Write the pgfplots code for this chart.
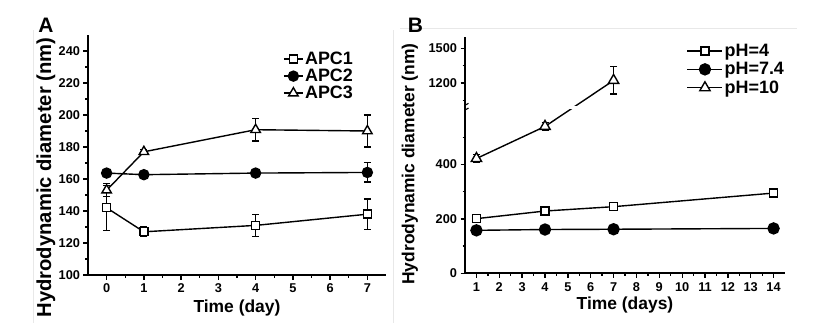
\documentclass[border=0pt]{standalone}
\usepackage{pgfplots}
\pgfplotsset{compat=1.18}
\usepackage{pgfplotstable}
\usepackage{fontspec}
\setmainfont{Liberation Sans}

\pgfplotstableread{
x y e
0 142 14
1 127 3
4 131 7
7 138 9.5
}\apcA
\pgfplotstableread{
x y e
0 163.7 0
1 162.7 0
4 163.7 0
7 164.1 6
}\apcB
\pgfplotstableread{
x y e
0 153 4
1 177 1.5
4 190.8 7
7 190 10
}\apcC
\pgfplotstableread{
x y e
1 201 4
4 229 4
7 245 4
14 295 4
}\phA
\pgfplotstableread{
x y e
1 158 3
4 161 3
7 162 3
14 165 3
}\phB
\pgfplotstableread{
x y e
1 422 15
4 540 15
7 1223 0
}\phC
% error bar of pH=10 at day 7: 1223 +/- 117
\pgfplotstableread{
x y
7 1106
7 1340
}\phCerr

\newcommand\legfont{\bfseries\fontsize{18}{18}\selectfont}
\pgfplotsset{
  panel/.style={
    scale only axis,
    axis x line*=bottom, axis y line*=left,
    axis line style={line width=1.6bp,-},
    tick align=outside,
    major tick length=4.5bp, minor tick length=2.5bp,
    every tick/.style={black, line width=1.3bp},
    minor x tick num=1,
    ticklabel style={font=\bfseries\fontsize{12.8}{12.8}\selectfont},
    /pgf/number format/assume math mode=true,
    /pgf/number format/1000 sep={},
    xticklabel style={yshift=-1bp},
    label style={font=\bfseries\fontsize{17.5}{17.5}\selectfont},
    legend cell align=left,
    error bars/y dir=both, error bars/y explicit,
    error bars/error bar style={line width=1.2bp, black},
    error bars/error mark options={line width=1.2bp, black, mark size=3.5bp, rotate=90},
  },
  ser/.style={black, line width=1.4bp, mark options={solid, line width=1.7bp}},
  % broken y axis of panel B: 0..604 linear, 604..1000 squeezed, 1000..1600 compressed
  brk/.style={y filter/.code={\edef\yv{\pgfmathresult}\pgfmathparse{min(\yv,604)+max(min(\yv,1000)-604,0)*10/396+max(\yv-1000,0)*0.4267}}},
}

\begin{document}
\begin{tikzpicture}
\useasboundingbox (0,0) rectangle (825bp,331bp);
\draw[gray!18, line width=0.8bp] (33bp,8bp) -- (33bp,301bp);
\draw[gray!18, line width=0.8bp] (393bp,8bp) -- (393bp,301bp);
\draw[gray!18, line width=0.8bp] (400bp,303bp) -- (797bp,303bp);
\node[font=\bfseries\fontsize{21}{21}\selectfont] at (46bp,306bp) {A};

% ---------------- Panel A ----------------
\begin{axis}[panel,
  at={(88bp,56bp)}, anchor=south west,
  width=298bp, height=240bp,
  xmin=-0.5, xmax=7.5, ymin=100, ymax=250,
  xtick={0,...,7},
  ytick={100,120,...,240}, minor y tick num=1,
  xlabel={Time (day)}, ylabel={Hydrodynamic diameter (nm)},
  xlabel style={at={(axis description cs:0.5,-0.1375)}, anchor=center},
  ylabel style={at={(axis description cs:-0.141,0.406)}, anchor=center, font=\bfseries\fontsize{20.3}{20.3}\selectfont},
  legend style={draw=none, fill=none, inner sep=0pt, outer sep=0pt, row sep=0bp,
     nodes={inner sep=1.5bp},
     at={(axis description cs:0.655,0.935)}, anchor=north west},
  legend image code/.code={\draw[#1, mark repeat=2, mark phase=2] plot coordinates {(0bp,0bp) (9.5bp,0bp) (19bp,0bp)};},
]
\addplot+[ser, mark=square*, mark size=4bp, mark options={fill=white}] table[x=x,y=y,y error=e] {\apcA};
\addlegendentry{\legfont APC1}
\addplot+[ser, mark=*, mark size=5bp, mark options={fill=black}] table[x=x,y=y,y error=e] {\apcB};
\addlegendentry{\legfont APC2}
\addplot+[ser, mark=triangle*, mark size=5.5bp, mark options={fill=white}] table[x=x,y=y,y error=e] {\apcC};
\addlegendentry{\legfont APC3}
\end{axis}

% ---------------- Panel B ----------------
\begin{axis}[panel,
  at={(465bp,57.7bp)}, anchor=south west,
  width=320bp, height=236.6bp,
  xmin=0.5, xmax=14.5, ymin=0, ymax=870,
  xtick={1,...,14},
  ytick={0,200,400,699.34,827.35}, yticklabels={0,200,400,1200,1500},
  minor ytick={100,300,500,635.3,763.3},
  xlabel={Time (days)}, ylabel={Hydrodynamic diameter (nm)},
  xlabel style={at={(axis description cs:0.5,-0.134)}, anchor=center},
  ylabel style={at={(axis description cs:-0.172,0.462)}, anchor=center},
  legend style={draw=none, fill=none, inner sep=0pt, outer sep=0pt, row sep=1.5bp,
     nodes={inner sep=1.5bp},
     at={(axis description cs:0.693,0.975)}, anchor=north west},
  legend image code/.code={\draw[#1, mark repeat=2, mark phase=2] plot coordinates {(0bp,0bp) (17.5bp,0bp) (35bp,0bp)};},
]
\addplot+[ser, brk, mark=square*, mark size=4bp, mark options={fill=white}] table[x=x,y=y,y error=e] {\phA};
\addlegendentry{\legfont pH=4}
\addplot+[ser, brk, mark=*, mark size=5.5bp, mark options={fill=black}] table[x=x,y=y,y error=e] {\phB};
\addlegendentry{\legfont pH=7.4}
\addplot[black, line width=1.2bp, brk, mark=-, mark size=3.5bp, mark options={solid, line width=1.2bp}, forget plot] table[x=x,y=y] {\phCerr};
\addplot+[ser, brk, mark=triangle*, mark size=6bp, mark options={fill=white}] table[x=x,y=y,y error=e] {\phC};
\addlegendentry{\legfont pH=10}
\fill[white] (axis cs:0.56,604) rectangle (axis cs:14.5,614);
\draw[line width=1.1bp] ([xshift=-3.5bp,yshift=-3bp]axis cs:0.5,604) -- ++(7bp,4bp);
\draw[line width=1.1bp] ([xshift=-3.5bp,yshift=-1bp]axis cs:0.5,614) -- ++(7bp,4bp);
\end{axis}
\node[font=\bfseries\fontsize{21}{21}\selectfont] at (415.5bp,306bp) {B};
\end{tikzpicture}
\end{document}
